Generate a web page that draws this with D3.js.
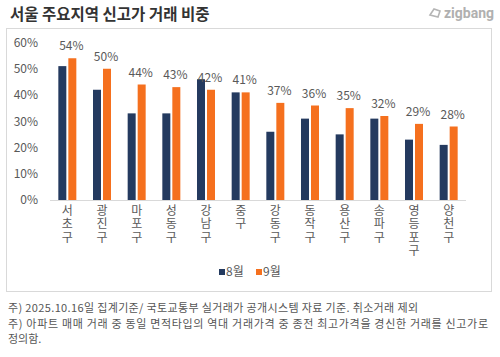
<!DOCTYPE html>
<html><head><meta charset="utf-8">
<script src="https://cdn.jsdelivr.net/npm/d3@7"></script>
<style>body{margin:0;background:#fff}svg{display:block}</style>
</head><body>
<svg id="c" width="500" height="357"></svg>
<script>
const title = "서울 주요지역 신고가 거래 비중";
const categories = ["서초구","광진구","마포구","성동구","강남구","중구","강동구","동작구","용산구","송파구","영등포구","양천구"];
const aug = [51,42,33,33,46,41,26,31,25,31,23,21];
const sep = [54,50,44,43,42,41,37,36,35,32,29,28];
const seriesNames = ["8월","9월"];
const yTicks = [0,10,20,30,40,50,60];
const notes = [
  "주) 2025.10.16일 집계기준/ 국토교통부 실거래가 공개시스템 자료 기준. 취소거래 제외",
  "주) 아파트 매매 거래 중 동일 면적타입의 역대 거래가격 중 종전 최고가격을 경신한 거래를 신고가로",
  "정의함."
];
const noteWidths = [410, 480, null];
const colors = ["#243a5f","#f5701e"];
const font = "'Malgun Gothic','Noto Sans CJK KR','Noto Sans',sans-serif";

const svg = d3.select("#c").style("font-family", font);

svg.append("text").attr("x",10).attr("y",20).attr("font-size",15.5).attr("font-weight","bold")
  .attr("fill","#333").text(title);

// logo
svg.append("path").attr("d","M430,15 l4,-6 l6,2 l-2,6 z").attr("fill","none").attr("stroke","#b5b5b5").attr("stroke-width",1.6);
svg.append("text").attr("x",444).attr("y",18).attr("font-size",14).attr("font-weight","bold")
  .attr("fill","#b0b0b0").attr("font-family","Roboto,sans-serif").text("zigbang");

// frame
svg.append("rect").attr("x",6.5).attr("y",28.5).attr("width",485).attr("height",263)
  .attr("fill","none").attr("stroke","#d9d9d9");

const x = d3.scaleBand().domain(categories).range([50,466]).paddingInner(0).paddingOuter(0);
const y = d3.scaleLinear().domain([0,60]).range([200,42.5]);
const bw = 8, gap = 2;

// y axis
const ya = svg.append("g").attr("transform","translate(40,0)")
  .call(d3.axisLeft(y).tickValues(yTicks).tickFormat(d=>d+"%").tickSize(0));
ya.select(".domain").remove();
ya.selectAll("text").attr("font-size",12).attr("fill","#595959").attr("font-family",font).attr("x",-2);

// baseline
svg.append("line").attr("x1",50).attr("x2",466).attr("y1",200.5).attr("y2",200.5).attr("stroke","#d9d9d9");

const g = svg.append("g");
g.selectAll(".a").data(categories).join("rect")
  .attr("x",d=>x(d)+x.bandwidth()/2-gap/2-bw).attr("width",bw)
  .attr("y",(d,i)=>y(aug[i])).attr("height",(d,i)=>200-y(aug[i])).attr("fill",colors[0]);
g.selectAll(".s").data(categories).join("rect")
  .attr("x",d=>x(d)+x.bandwidth()/2+gap/2).attr("width",bw)
  .attr("y",(d,i)=>y(sep[i])).attr("height",(d,i)=>200-y(sep[i])).attr("fill",colors[1]);

g.selectAll(".l").data(categories).join("text")
  .attr("x",d=>x(d)+x.bandwidth()/2+4).attr("y",(d,i)=>y(sep[i])-8)
  .attr("text-anchor","middle").attr("font-size",12).attr("fill","#595959")
  .text((d,i)=>sep[i]+"%");

// category labels vertical
svg.append("g").selectAll("text").data(categories).join("text")
  .attr("x",d=>x(d)+x.bandwidth()/2).attr("y",204)
  .style("writing-mode","vertical-rl").style("text-orientation","upright")
  .style("letter-spacing","1.5px")
  .attr("font-size",12).attr("fill","#595959").text(d=>d);

// legend
const leg = [[219,"8월"],[256,"9월"]];
leg.forEach((l,i)=>{
  svg.append("rect").attr("x",l[0]).attr("y",269).attr("width",6).attr("height",6).attr("fill",colors[i]);
  svg.append("text").attr("x",l[0]+7).attr("y",276).attr("font-size",12).attr("fill","#595959").text(seriesNames[i]);
});

// notes
notes.forEach((n,i)=>{
  const t = svg.append("text").attr("x",8).attr("y",312+i*15.5).attr("font-size",11)
    .attr("fill","#555").text(n);
  if (noteWidths[i]) t.attr("textLength",noteWidths[i]).attr("lengthAdjust","spacing");
});
</script>
</body></html>
